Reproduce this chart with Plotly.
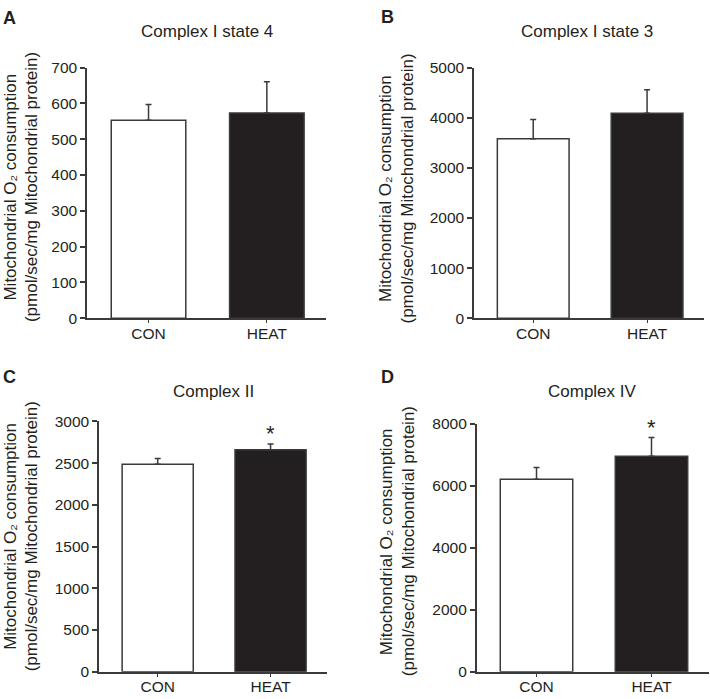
import plotly.graph_objects as go

categories = ["CON", "HEAT"]
titles = ["Complex I state 4", "Complex I state 3", "Complex II", "Complex IV"]
letters = ["A", "B", "C", "D"]
means_a = [553, 573]
errs_a = [44, 87]
means_b = [3580, 4090]
errs_b = [383, 467]
means_c = [2486, 2661]
errs_c = [70, 67]
means_d = [6207, 6952]
errs_d = [377, 598]
yranges = [700, 5000, 3000, 8000]
ydtick = [100, 1000, 500, 2000]
signif = [False, False, True, True]
ytitle_lines = ["Mitochondrial O\u2082 consumption", "(pmol/sec/mg Mitochondrial protein)"]

means = [means_a, means_b, means_c, means_d]
errs = [errs_a, errs_b, errs_c, errs_d]

W, H = 710, 699
# pixel boxes: left, right, top, bottom
boxes = [(87, 326, 60, 317), (474, 704, 60, 317), (99, 327, 422.7, 679.3), (476.7, 709, 425, 679.3)]
title_pos = [(207, 23), (587, 23), (213, 392), (592, 392)]
letter_pos = [(9, 9), (387, 8), (9.5, 377), (387, 377)]
ytitle_x = [(11, 31.5), (385.5, 408), (11, 31.5), (386.5, 408.5)]
ytitle_y = [183, 184, 541, 546]

INK = "#231f20"
LINE = "#3a3a3a"
FONT = "Liberation Sans, Arial, sans-serif"

fig = go.Figure()
annotations = []
for i in range(4):
    ax = "" if i == 0 else str(i + 1)
    l, r, t, b = boxes[i]
    fig.add_trace(go.Bar(
        x=categories, y=means[i],
        marker=dict(color=["white", INK], line=dict(color=LINE, width=1.5)),
        width=0.63,
        error_y=dict(type="data", array=errs[i], arrayminus=[0, 0], symmetric=False,
                     color=LINE, thickness=1.5, width=3),
        xaxis="x" + ax, yaxis="y" + ax, showlegend=False,
    ))
    fig.layout["xaxis" + ax] = dict(
        domain=[l / W, r / W], anchor="y" + ax, range=[-0.52, 1.5],
        showline=True, linecolor=LINE, linewidth=1.5, ticks="outside", ticklen=3,
        tickcolor=LINE, tickwidth=1, showgrid=False, zeroline=False,
        ticklabelstandoff=-3,
        tickfont=dict(family=FONT, size=15.5, color=INK), fixedrange=True,
    )
    fig.layout["yaxis" + ax] = dict(
        domain=[1 - b / H, 1 - t / H], anchor="x" + ax, range=[0, yranges[i]],
        dtick=ydtick[i], tick0=0, showline=True, linecolor=LINE, linewidth=1.5,
        ticks="outside", ticklen=5, tickcolor=LINE, tickwidth=1.5, showgrid=False,
        zeroline=False, tickfont=dict(family=FONT, size=15.5, color=INK),
        fixedrange=True,
    )
    tx, ty = title_pos[i]
    annotations.append(dict(text=titles[i], x=tx / W, y=1 - ty / H, xref="paper", yref="paper",
                            xanchor="center", yanchor="middle", showarrow=False,
                            font=dict(family=FONT, size=17, color=INK)))
    lx, ly = letter_pos[i]
    annotations.append(dict(text=letters[i], x=lx / W, y=1 - ly / H, xref="paper", yref="paper",
                            xanchor="center", yanchor="middle", showarrow=False,
                            font=dict(family=FONT, size=18, color=INK, weight="bold")))
    for k in range(2):
        annotations.append(dict(text=ytitle_lines[k], x=ytitle_x[i][k] / W, y=1 - ytitle_y[i] / H,
                                xref="paper", yref="paper", textangle=-90,
                                xanchor="center", yanchor="middle", showarrow=False,
                                font=dict(family=FONT, size=17, color=INK)))
    if signif[i]:
        annotations.append(dict(text="*", x="HEAT", y=means[i][1] + errs[i][1], xref="x" + ax, yref="y" + ax,
                                xanchor="center", yanchor="bottom", yshift=-4, showarrow=False,
                                font=dict(family=FONT, size=22, color=INK)))

fig.update_layout(width=W, height=H, margin=dict(l=0, r=0, t=0, b=0),
                  paper_bgcolor="white", plot_bgcolor="white", annotations=annotations,
                  bargap=0.37)
fig.write_html("out.html")
